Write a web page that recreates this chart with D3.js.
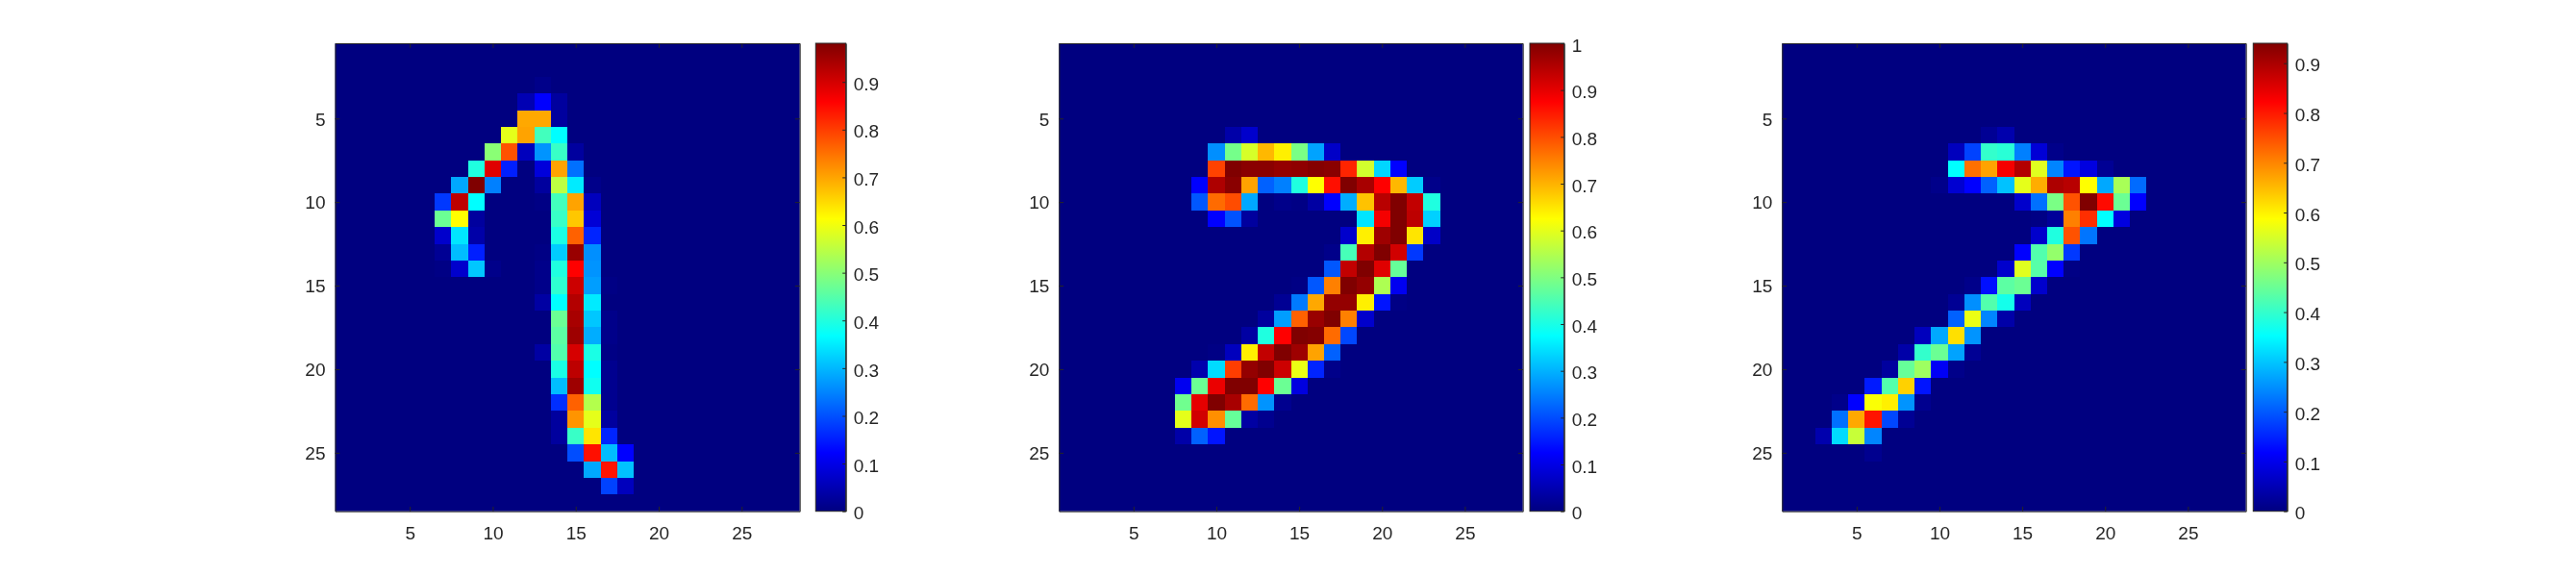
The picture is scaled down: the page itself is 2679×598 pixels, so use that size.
<!DOCTYPE html>
<html>
<head>
<meta charset="utf-8">
<script src="https://d3js.org/d3.v7.min.js"></script>
<style>
body { margin: 0; background: #fff; }
svg { display: block; will-change: transform; }
</style>
</head>
<body>
<div id="chart"></div>
<script>
// cell rows: [row, first column, values], anything not listed is 0
// values are read as a fraction of that panel's colour range
var digitOne = [
	[3, 13, [.01]],
	[4, 12, [.05, .125, .03]],
	[5, 12, [.71, .71, .03]],
	[6, 11, [.6, .715, .44, .375]],
	[7, 10, [.51, .795, .06, .27, .43, .03]],
	[8, 9, [.405, .905, .155, 0, .09, .715, .235]],
	[9, 8, [.29, 1, .25, 0, 0, .03, .56, .355, .01]],
	[10, 7, [.18, .94, .375, 0, 0, 0, .005, .44, .715, .06]],
	[11, 7, [.48, .625, .03, 0, 0, 0, 0, .43, .68, .085]],
	[12, 7, [.075, .35, .04, 0, 0, 0, 0, .4, .78, .16]],
	[13, 7, [.02, .31, .155, 0, 0, 0, .005, .325, .975, .265]],
	[14, 7, [.005, .075, .32, .01, 0, 0, .01, .405, .875, .27]],
	[15, 13, [.01, .42, .925, .28, .005]],
	[16, 13, [.035, .375, .95, .355]],
	[17, 14, [.48, .96, .32, .01]],
	[18, 14, [.465, .97, .295, .01]],
	[19, 13, [.035, .455, .915, .4, .005]],
	[20, 14, [.4, .94, .375, .015]],
	[21, 14, [.31, .97, .39, .015]],
	[22, 14, [.17, .78, .55, .015]],
	[23, 14, [.03, .73, .6, .03]],
	[24, 14, [.03, .43, .65, .16]],
	[25, 15, [.2, .86, .31, .125]],
	[26, 16, [.29, .855, .315]],
	[27, 17, [.19, .06]]
];

var digitSevenA = [
	[6, 11, [.04, .075]],
	[7, 10, [.265, .49, .585, .695, .64, .495, .285, .07]],
	[8, 10, [.81, 1, .99, .99, .98, .985, .995, .99, .84, .58, .335, .125]],
	[9, 9, [.125, .955, .99, .715, .22, .25, .405, .625, .86, 1, .96, .875, .695, .325, .01]],
	[10, 9, [.21, .77, .8, .29, 0, .01, .005, .035, .125, .295, .685, .945, 1, .935, .405]],
	[11, 10, [.125, .205, .03, 0, 0, 0, 0, 0, 0, .35, .885, 1, .94, .33]],
	[12, 18, [.075, .64, .97, 1, .65, .07]],
	[13, 17, [.01, .445, .95, 1, .92, .18]],
	[14, 17, [.21, .935, 1, .905, .475]],
	[15, 15, [.005, .21, .75, 1, .98, .545, .11]],
	[16, 14, [.02, .245, .71, .98, .98, .64, .145, .005]],
	[17, 13, [.03, .28, .78, .975, 1, .75, .075]],
	[18, 12, [.035, .405, .875, 1, .995, .77, .195]],
	[19, 10, [.005, .06, .64, .935, 1, .97, .715, .22]],
	[20, 9, [.045, .34, .815, .98, 1, .925, .605, .16, .01]],
	[21, 8, [.11, .48, .895, 1, 1, .875, .48, .095]],
	[22, 8, [.485, .9, 1, .96, .77, .27, .015]],
	[23, 8, [.6, .92, .735, .475, .035, .015]],
	[24, 8, [.04, .22, .145]]
];

var digitSevenB = [
	[6, 13, [.02, .045]],
	[7, 11, [.06, .19, .425, .415, .25, .085, .01]],
	[8, 11, [.375, .765, .715, .885, .95, .595, .255, .145, .095, .02]],
	[9, 10, [.01, .08, .125, .22, .315, .6, .705, .955, .945, .625, .29, .54, .23]],
	[10, 15, [.075, .235, .495, .795, 1, .865, .48, .125]],
	[11, 16, [.005, .025, .75, .83, .375, .095]],
	[12, 16, [.075, .405, .795, .24]],
	[13, 15, [.125, .455, .52, .18]],
	[14, 14, [.075, .595, .46, .125, .005]],
	[15, 12, [.01, .14, .465, .48, .075]],
	[16, 11, [.02, .265, .455, .395, .06]],
	[17, 11, [.22, .605, .255, .04]],
	[18, 9, [.06, .29, .655, .27]],
	[19, 8, [.04, .425, .48, .285, .02]],
	[20, 7, [.03, .475, .53, .115, .01]],
	[21, 6, [.15, .455, .67, .145]],
	[22, 4, [.01, .125, .62, .64, .27, .015]],
	[23, 4, [.235, .71, .855, .195, .02]],
	[24, 3, [.045, .34, .57, .255]],
	[25, 6, [.015]]
];

var panelCells = [digitOne, digitSevenA, digitSevenB];
var panelPeaks = [0.981, 1, 0.94];
var axisTicks = [5, 10, 15, 20, 25];

// left, right of the image and of its colorbar
var panelX = [[348.5, 831.7], [1101.3, 1583.7], [1853.3, 2335.7]];
var barX = [[848.3, 879.7], [1591, 1626.7], [2343.3, 2378.7]];
var topY = 45, bottomY = 531.7;

var svg = d3.select("#chart").append("svg").attr("width", 2679).attr("height", 598);

function clamp(v) {
	return Math.max(0, Math.min(1, v));
}

function jet(t) {
	return d3.rgb(255 * clamp(1.5 - Math.abs(4 * t - 3)),
			255 * clamp(1.5 - Math.abs(4 * t - 2)),
			255 * clamp(1.5 - Math.abs(4 * t - 1))) + "";
}

// one gradient for all the colorbars
var grad = svg.append("defs").append("linearGradient").attr("id", "jetbar")
		.attr("x1", 0).attr("x2", 0).attr("y1", 1).attr("y2", 0);
grad.selectAll("stop").data(d3.range(0, 33)).enter().append("stop")
		.attr("offset", function(d) { return d / 32; })
		.attr("stop-color", function(d) { return jet(d / 32); });

function drawPanel(i) {
	var g = svg.append("g");
	var x = d3.scaleLinear().domain([0.5, 28.5]).range(panelX[i]);
	var y = d3.scaleLinear().domain([0.5, 28.5]).range([topY, bottomY]);

	var cells = [];
	panelCells[i].forEach(function(row) {
		row[2].forEach(function(v, k) {
			cells.push({ row: row[0], col: row[1] + k, value: v });
		});
	});

	g.append("rect").attr("x", x(0.5)).attr("y", y(0.5))
			.attr("width", x(28.5) - x(0.5)).attr("height", y(28.5) - y(0.5))
			.attr("fill", jet(0));

	g.selectAll(".cell").data(cells).enter().append("rect").attr("class", "cell")
			.attr("x", function(d) { return x(d.col - 0.5); })
			.attr("y", function(d) { return y(d.row - 0.5); })
			.attr("width", function(d) { return x(d.col + 0.5) - x(d.col - 0.5); })
			.attr("height", function(d) { return y(d.row + 0.5) - y(d.row - 0.5); })
			.attr("fill", function(d) { return jet(d.value); })
			.attr("shape-rendering", "crispEdges");

	var tl = 4.8;
	g.append("g").attr("transform", "translate(0," + bottomY + ")")
			.call(d3.axisBottom(x).tickValues(axisTicks).tickSizeInner(-tl).tickSizeOuter(0).tickPadding(16));
	g.append("g").attr("transform", "translate(" + panelX[i][0] + ",0)")
			.call(d3.axisLeft(y).tickValues(axisTicks).tickSizeInner(-tl).tickSizeOuter(0).tickPadding(10))
			.selectAll("text").attr("dy", "0.36em");
	g.append("g").attr("transform", "translate(0," + topY + ")")
			.call(d3.axisTop(x).tickValues(axisTicks).tickSizeInner(-tl).tickSizeOuter(0).tickFormat(""));
	g.append("g").attr("transform", "translate(" + panelX[i][1] + ",0)")
			.call(d3.axisRight(y).tickValues(axisTicks).tickSizeInner(-tl).tickSizeOuter(0).tickFormat(""));

	// colorbar
	var peak = panelPeaks[i];
	var c = d3.scaleLinear().domain([0, peak]).range([bottomY, topY]);

	g.append("rect").attr("x", barX[i][0]).attr("y", c(peak))
			.attr("width", barX[i][1] - barX[i][0]).attr("height", c(0) - c(peak))
			.attr("fill", "url(#jetbar)").attr("stroke", "#262626");

	var barTicks = d3.range(0, 11).map(function(d) { return d / 10; }).filter(function(d) { return d <= peak; });
	g.append("g").attr("transform", "translate(" + barX[i][1] + ",0)")
			.call(d3.axisRight(c).tickValues(barTicks).tickSizeInner(-3.5).tickSizeOuter(0).tickPadding(8).tickFormat(d3.format("~g")))
			.selectAll("text").attr("dy", "0.43em");

	g.selectAll(".domain").attr("stroke", "#262626");
	g.selectAll(".tick line").attr("stroke", "#262626");
	g.selectAll(".tick text").attr("fill", "#262626").style("font-size", "19px")
			.style("font-family", '"Liberation Sans", Arial, sans-serif');
}

panelCells.forEach(function(d, i) { drawPanel(i); });
</script>
</body>
</html>
